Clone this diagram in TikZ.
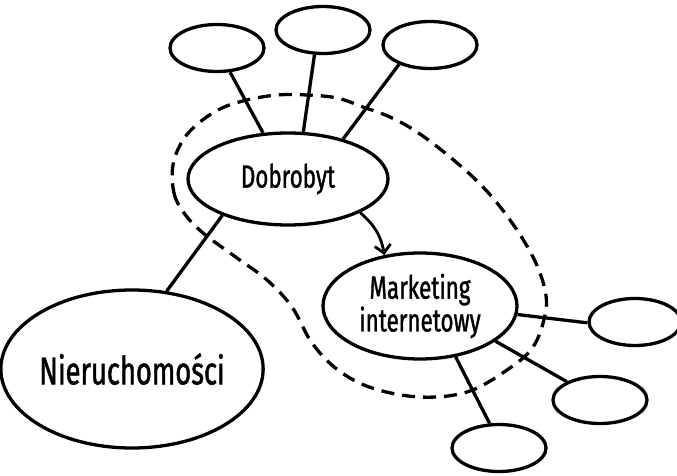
\documentclass[tikz,border=0pt]{standalone}
\usepackage{fontspec}
\setmainfont{Fira Sans}[FakeStretch=0.7, FakeBold=1.2]
\usetikzlibrary{shapes, arrows.meta, calc, positioning}
\tikzset{bubble/.style={draw, ellipse, line width=3.3pt, inner sep=0pt, align=center}}
\tikzset{leaf/.style={bubble, minimum width=94pt, minimum height=47pt}}
\tikzset{link/.style={line width=3.3pt}}
\tikzset{group/.style={line width=3.3pt, dash pattern=on 13pt off 8pt}}
\tikzset{flow/.style={line width=2.8pt, -{Straight Barb[length=8pt, width=16pt]}}}
\newcommand{\bigtxt}{\fontsize{39}{40}\selectfont}
\newcommand{\midtxt}{\fontsize{32}{30}\selectfont}

\begin{document}
\begin{tikzpicture}[x=1pt, y=-1pt]
    \useasboundingbox (0,0) rectangle (677,476);

    % main topics
    \node[bubble, minimum width=200pt, minimum height=92pt, font=\midtxt] (dob) at (288,179) {Dobrobyt};
    \node[bubble, minimum width=194pt, minimum height=106pt, font=\midtxt] (mkt) at (420,306) {Marketing\\internetowy};
    \node[bubble, minimum width=254pt, minimum height=158pt, font=\bigtxt] (nier) at (132,369) {Nieruchomości};

    % empty leaves
    \node[leaf] (t1) at (217,48) {};
    \node[leaf] (t2) at (323,30) {};
    \node[leaf] (t3) at (430,45) {};
    \node[leaf, minimum width=92pt] (r1) at (635,322) {};
    \node[leaf] (r2) at (600,400) {};
    \node[leaf] (r3) at (499,448) {};

    \draw [link] (t1) -- (dob);
    \draw [link] (t2.251) -- (dob.72);
    \draw [link] (t3.212) -- (dob.36);
    \draw [link] (dob.209) -- (nier.66);
    \draw [link] (mkt.355) -- (r1.181);
    \draw [link] (mkt.335) -- (r2.151);
    \draw [link] (mkt.305) -- (r3.111);

    \draw [flow] (dob.335) to[bend left=20] (mkt.125);

    % dashed group
    \draw [group] plot [smooth cycle, tension=0.6] coordinates {
        (173,165) (174,193) (184,213) (203,233) (237,258) (267,280) (292,307)
        (312,343) (338,370) (372,388) (420,397) (467,392) (507,370) (533,347)
        (545,315) (545,290) (533,257) (510,220) (483,187) (450,157) (417,132)
        (390,117) (363,107) (337,98) (307,95) (277,95) (247,100) (222,108)
        (200,122) (183,140)};
\end{tikzpicture}
\end{document}
